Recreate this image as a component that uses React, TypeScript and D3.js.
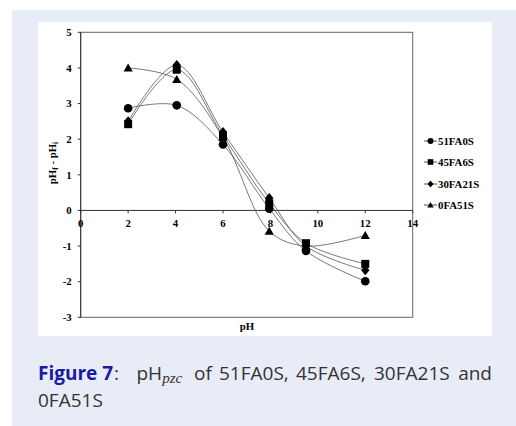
import React from 'react'
import * as d3 from 'd3'

// pH values (x) and pHf - pHi (y)
const phValues = [2, 4.05, 6, 7.95, 9.5, 12]
const series51FA0S = [2.87, 2.95, 1.85, 0.05, -1.14, -1.99]
const series45FA6S = [2.42, 3.95, 2.1, 0.2, -0.92, -1.5]
const series30FA21S = [2.5, 4.08, 2.2, 0.35, -1.0, -1.68]
const series0FA51S = [4.0, 3.68, 2.05, -0.58, -1.0, -0.7]
const seriesNames = ['51FA0S', '45FA6S', '30FA21S', '0FA51S']
const markerShapes = ['circle', 'square', 'diamond', 'triangle']
const xTicks = [0, 2, 4, 6, 8, 10, 12, 14]
const yTicks = [-3, -2, -1, 0, 1, 2, 3, 4, 5]

const W = 516
const H = 426
const plot = { left: 80.7, right: 412.7, top: 32.3, bottom: 317.3 }
const axisColor = '#666'
const lineColor = '#555'
const serif = '"Liberation Serif", "Times New Roman", serif'
const fs = 10.8

function Marker({ shape, x, y, s = 1 }: { shape: string; x: number; y: number; s?: number }) {
  if (shape === 'circle') return <circle cx={x} cy={y} r={4.3 * s} fill="#000" />
  if (shape === 'square') return <rect x={x - 4 * s} y={y - 4 * s} width={8 * s} height={8 * s} fill="#000" />
  if (shape === 'diamond') {
    const w = 4.2 * s
    const h = 5 * s
    return <path d={`M${x},${y - h}L${x + w},${y}L${x},${y + h}L${x - w},${y}Z`} fill="#000" />
  }
  const w = 4.6 * s
  const h = 8 * s
  return (
    <path d={`M${x},${y - h * 0.55}L${x + w},${y + h * 0.45}L${x - w},${y + h * 0.45}Z`} fill="#000" />
  )
}

export default function App() {
  const xScale = d3.scaleLinear().domain([0, 14]).range([plot.left, plot.right])
  const yScale = d3.scaleLinear().domain([-3, 5]).range([plot.bottom, plot.top])
  const allSeries = [series51FA0S, series45FA6S, series30FA21S, series0FA51S]

  const line = d3
    .line<number>()
    .x((_, i) => xScale(phValues[i]))
    .y(d => yScale(d))
    .curve(d3.curveCatmullRom.alpha(0.5))

  const y0 = yScale(0)
  const legendX = 424
  const legendY = [141, 162, 184, 205]

  return (
    <svg width={W} height={H} style={{ position: 'absolute', left: 0, top: 0 }}>
      <rect x={0} y={0} width={W} height={H} fill="#fff" />
      <rect x={12} y={10} width={W - 12} height={H - 10} fill="#e8ecf6" />
      <rect x={38} y={22} width={454} height={314} fill="#fff" />

      {/* frame */}
      <rect
        x={plot.left}
        y={plot.top}
        width={plot.right - plot.left}
        height={plot.bottom - plot.top}
        fill="none"
        stroke={axisColor}
        strokeWidth={1}
      />
      <line x1={plot.left} x2={plot.right} y1={y0} y2={y0} stroke="#333" strokeWidth={1} />
      <line x1={plot.left} x2={plot.left} y1={plot.top} y2={plot.bottom} stroke="#333" strokeWidth={1} />

      {/* y ticks */}
      {yTicks.map(t => (
        <g key={t}>
          <line x1={plot.left - 3} x2={plot.left} y1={yScale(t)} y2={yScale(t)} stroke="#333" />
          <text
            x={plot.left - 9}
            y={yScale(t)}
            dy="0.35em"
            textAnchor="end"
            fontFamily={serif}
            fontWeight="bold"
            fontSize={fs}
          >
            {t}
          </text>
        </g>
      ))}

      {/* x ticks on the zero line */}
      {xTicks.map(t => (
        <g key={t}>
          <line x1={xScale(t)} x2={xScale(t)} y1={y0} y2={y0 + 3} stroke="#333" />
          <text
            x={xScale(t)}
            y={y0 + 17}
            textAnchor="middle"
            fontFamily={serif}
            fontWeight="bold"
            fontSize={fs}
          >
            {t}
          </text>
        </g>
      ))}

      {/* series */}
      {allSeries.map((s, k) => (
        <path key={k} d={line(s) as string} fill="none" stroke={lineColor} strokeWidth={0.8} />
      ))}
      {allSeries.map((s, k) =>
        s.map((v, i) => (
          <Marker key={`${k}-${i}`} shape={markerShapes[k]} x={xScale(phValues[i])} y={yScale(v)} />
        ))
      )}

      {/* axis titles */}
      <text x={247} y={330} textAnchor="middle" fontFamily={serif} fontWeight="bold" fontSize={fs}>
        pH
      </text>
      <text
        transform="translate(56,163) rotate(-90)"
        textAnchor="middle"
        fontFamily={serif}
        fontWeight="bold"
        fontSize={fs}
      >
        pH<tspan fontSize={7.5} dy={2}>f</tspan>
        <tspan dy={-2}> - pH</tspan>
        <tspan fontSize={7.5} dy={2}>i</tspan>
      </text>

      {/* legend */}
      {seriesNames.map((name, k) => (
        <g key={name}>
          <line x1={legendX} x2={legendX + 13} y1={legendY[k]} y2={legendY[k]} stroke={lineColor} />
          <Marker shape={markerShapes[k]} x={legendX + 6.5} y={legendY[k]} s={0.7} />
          <text
            x={legendX + 14}
            y={legendY[k]}
            dy="0.35em"
            fontFamily={serif}
            fontWeight="bold"
            fontSize={fs}
          >
            {name}
          </text>
        </g>
      ))}

      {/* caption */}
      <g fontFamily='"Open Sans", sans-serif' fontSize={19} fill="#333">
        <text x={38} y={380} fill="#1a1aa8" fontWeight="bold">
          Figure 7
        </text>
        <text x={114} y={380}>:</text>
        <text x={136.5} y={380}>
          pH
          <tspan fontFamily={serif} fontStyle="italic" fontSize={15} dy={3}>
            pzc
          </tspan>
        </text>
        <text x={194} y={380}>of</text>
        <text x={219} y={380}>51FA0S,</text>
        <text x={296} y={380}>45FA6S,</text>
        <text x={374} y={380}>30FA21S</text>
        <text x={492} y={380} textAnchor="end">and</text>
        <text x={38} y={407}>0FA51S</text>
      </g>
    </svg>
  )
}
